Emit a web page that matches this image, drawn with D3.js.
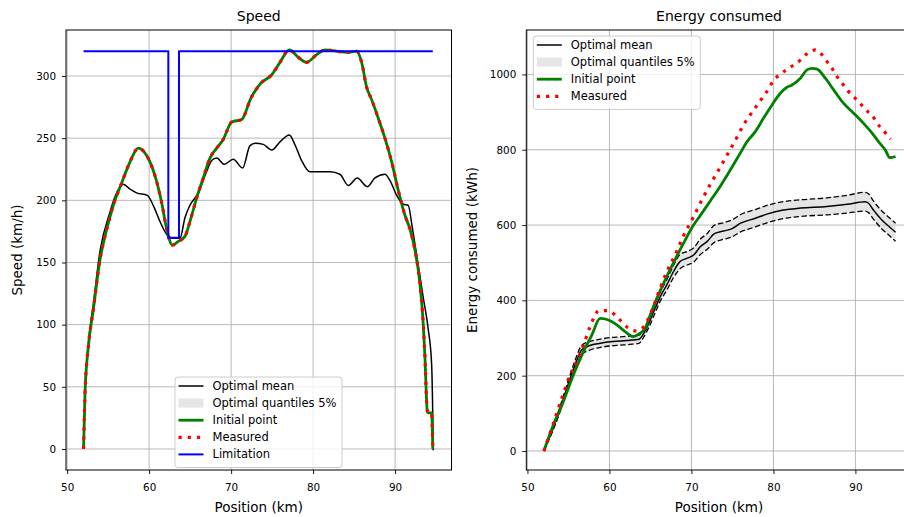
<!DOCTYPE html>
<html>
<head>
<meta charset="utf-8">
<script src="https://cdn.jsdelivr.net/npm/d3@7"></script>
<style>
  body { margin: 0; background: #fff; }
  svg { display: block; }
  text { font-family: "DejaVu Sans", sans-serif; fill: #000; }
</style>
</head>
<body>
<svg id="chart" width="904" height="517"></svg>
<script>
// ---- data ----
const posTicks = [50, 60, 70, 80, 90];
const speedTicks = [0, 50, 100, 150, 200, 250, 300];
const energyTicks = [0, 200, 400, 600, 800, 1000];

// Speed (km/h)
const speedMeanPos = [52.0, 52.18, 52.58, 53.19, 54.0, 55.2, 55.84, 56.85, 57.67, 58.48, 59.78, 60.5, 61.32, 62.34, 62.95, 63.76, 64.37, 64.98, 66.0, 67.0, 67.63, 68.24, 69.17, 70.26, 71.4, 72.3, 72.95, 73.92, 74.95, 75.96, 77.1, 77.8, 78.6, 79.6, 82.06, 83.27, 84.29, 85.39, 86.6, 87.54, 88.76, 89.37, 90.19, 91.0, 91.6, 92.1, 92.63, 93.43, 94.05, 94.45, 94.57, 94.65];
const speedMean = [0, 46, 84, 116, 159, 190, 203, 213, 209, 206, 204, 196, 183, 171, 169.5, 169.5, 186, 196, 206, 223, 232, 234, 229, 233, 226, 244, 246, 245, 240.5, 247, 252.5, 244.5, 232, 223, 223, 221, 212, 218, 211, 218, 221, 216, 204, 197, 196, 178, 156, 122, 96, 69, 37, -1];

const speedInitPos = [52.0, 52.18, 52.58, 53.19, 54.0, 54.8, 55.63, 56.65, 57.67, 58.68, 59.7, 60.7, 61.5, 62.14, 62.83, 63.56, 64.37, 64.98, 65.8, 66.6, 67.42, 68.24, 69.04, 70.07, 71.29, 72.4, 73.6, 74.95, 75.96, 77.1, 78.2, 79.2, 80.4, 81.45, 82.87, 84.1, 85.3, 85.92, 86.53, 87.14, 87.95, 88.76, 89.58, 90.39, 91.2, 91.81, 92.42, 93.03, 93.43, 93.64, 93.92, 94.05, 94.45, 94.6];
const speedInit = [0, 45, 82, 112, 152, 176, 196, 214, 231, 242, 236, 220, 199, 177, 164, 167, 171, 183, 202, 218, 234, 242, 249, 263, 265, 282, 294, 301, 311, 321, 315, 311, 317, 321, 320, 319, 320, 311, 291, 281, 266, 250, 231, 208, 188, 177, 160, 133, 101, 74, 31, 29, 29, 0];
const speedMeasured = speedInit; // identical to the initial point on the picture

const limitPos = [52.0, 62.34, 62.34, 63.64, 63.64, 94.6];
const limitSpeed = [320, 320, 170, 170, 320, 320];

// Energy consumed (kWh)
const energyPos = [52.0, 53.6, 54.8, 55.8, 56.6, 57.6, 58.9, 60.1, 61.3, 62.5, 63.6, 64.2, 64.8, 65.4, 66.2, 67.0, 67.8, 68.6, 69.5, 70.3, 71.1, 71.9, 72.8, 73.9, 74.9, 76.0, 77.8, 79.2, 81.2, 83.3, 86.5, 89.0, 91.2, 91.6, 92.2, 93.2, 94.1, 94.9];
const energyMean = [0, 87, 166, 228, 268, 280, 286, 290, 292, 294, 297, 313, 339, 370, 410, 441, 476, 503, 512, 521, 543, 556, 577, 584, 590, 605, 618, 629, 640, 645, 649, 655, 662, 658, 640, 614, 596, 581];
const energyHigh = [0, 93, 175, 240, 280, 291, 297, 301, 303, 305, 308, 322, 350, 382, 422, 455, 492, 522, 530, 540, 563, 577, 600, 606, 613, 628, 641, 652, 662, 667, 672, 679, 687, 683, 664, 638, 620, 605];
const energyLow = [0, 81, 157, 216, 256, 268, 275, 279, 281, 283, 286, 303, 328, 358, 398, 427, 460, 484, 494, 502, 522, 535, 554, 562, 568, 582, 595, 606, 617, 623, 627, 632, 637, 633, 616, 590, 573, 557];

const energyInitPos = [52.0, 53.16, 54.38, 55.6, 56.83, 57.85, 58.86, 59.88, 60.9, 61.92, 62.86, 63.75, 64.36, 64.97, 65.79, 66.6, 67.82, 69.04, 70.26, 71.07, 72.3, 73.52, 74.74, 75.96, 76.78, 77.79, 78.8, 79.83, 80.84, 81.66, 82.27, 83.29, 84.1, 84.71, 85.32, 86.33, 87.35, 88.57, 89.79, 91.0, 92.04, 92.84, 93.66, 94.19, 94.9];
const energyInit = [0, 69, 131, 202, 264, 308, 352, 348, 335, 317, 304, 313, 326, 361, 406, 445, 500, 552, 600, 625, 664, 703, 746, 791, 821, 848, 884, 919, 950, 966, 972, 990, 1012, 1016, 1014, 990, 959, 923, 897, 870, 844, 821, 799, 779, 782];

const energyMeasPos = [52.0, 53.16, 54.19, 55.2, 56.2, 56.83, 57.64, 58.74, 59.76, 60.7, 61.5, 62.2, 63.13, 64.07, 64.76, 65.37, 66.18, 67.0, 68.02, 69.04, 70.26, 71.28, 72.3, 73.31, 74.33, 75.35, 76.36, 77.4, 78.4, 79.42, 80.03, 80.84, 81.66, 82.47, 83.29, 84.1, 85.11, 85.93, 86.54, 87.15, 87.76, 88.37, 88.98, 89.79, 90.6, 91.22, 92.04, 92.65, 93.38, 94.0, 94.3];
const energyMeas = [0, 73, 140, 202, 246, 281, 330, 373, 373, 361, 343, 328, 319, 327, 352, 383, 432, 476, 521, 572, 622, 667, 708, 746, 785, 825, 866, 900, 930, 962, 985, 1000, 1014, 1025, 1038, 1055, 1065, 1052, 1034, 1016, 994, 977, 959, 941, 923, 906, 892, 870, 853, 835, 828];

// ---- layout ----
const TOP = 30, BOTTOM = 470, PANEL_W = 385.5;
const POS_DOMAIN = [49.86, 96.88];
const COLORS = { mean: "#000", band: "#d3d3d3", init: "#008000", meas: "#ff0000", limit: "#0000ff", grid: "#b0b0b0" };
const STYLE = {
    mean:  { stroke: COLORS.mean, width: 1.5 },
    quant: { stroke: COLORS.mean, width: 1.3, dash: "5.5,2.5" },
    init:  { stroke: COLORS.init, width: 2.8 },
    meas:  { stroke: COLORS.meas, width: 3.2, dash: "3.2,6" },
    limit: { stroke: COLORS.limit, width: 2 }
};

const svg = d3.select("#chart");
const defs = svg.append("defs");

function drawPanel(o) {
    const x = d3.scaleLinear().domain(POS_DOMAIN).range([o.left, o.left + PANEL_W]);
    const y = d3.scaleLinear().domain(o.yDomain).range([BOTTOM, TOP]);
    const g = svg.append("g");

    defs.append("clipPath").attr("id", o.id + "-clip").append("rect")
        .attr("x", o.left).attr("y", TOP).attr("width", PANEL_W).attr("height", BOTTOM - TOP);

    // grid
    const grid = g.append("g").attr("stroke", COLORS.grid).attr("stroke-width", 0.9);
    grid.selectAll(".gx").data(posTicks).join("line").attr("class", "gx")
        .attr("x1", d => x(d)).attr("x2", d => x(d)).attr("y1", TOP).attr("y2", BOTTOM);
    grid.selectAll(".gy").data(o.yTicks).join("line").attr("class", "gy")
        .attr("x1", o.left).attr("x2", o.left + PANEL_W).attr("y1", d => y(d)).attr("y2", d => y(d));

    const plot = g.append("g").attr("clip-path", `url(#${o.id}-clip)`);

    // axes
    const xAxis = g.append("g").attr("transform", `translate(0,${BOTTOM})`)
        .call(d3.axisBottom(x).tickValues(posTicks).tickFormat(d3.format("d")).tickSize(4).tickPadding(10));
    const yAxis = g.append("g").attr("transform", `translate(${o.left},0)`)
        .call(d3.axisLeft(y).tickValues(o.yTicks).tickFormat(d3.format("d")).tickSize(4).tickPadding(6));
    [xAxis, yAxis].forEach(a => {
        a.select(".domain").remove();
        a.attr("font-family", null).attr("font-size", null);
        a.selectAll("text").attr("font-size", "10.4px");
        a.selectAll("line").attr("stroke", "#000").attr("stroke-width", 0.9);
    });

    // frame
    g.append("rect").attr("x", o.left).attr("y", TOP).attr("width", PANEL_W).attr("height", BOTTOM - TOP)
        .attr("fill", "none").attr("stroke", "#000").attr("stroke-width", 1);

    // labels
    g.append("text").attr("x", o.left + PANEL_W / 2).attr("y", 21).attr("text-anchor", "middle")
        .attr("font-size", "14px").text(o.title);
    g.append("text").attr("x", o.left + PANEL_W / 2).attr("y", 512).attr("text-anchor", "middle")
        .attr("font-size", "13.5px").text("Position (km)");
    g.append("text").attr("transform", `translate(${o.ylabelX},${(TOP + BOTTOM) / 2}) rotate(-90)`)
        .attr("text-anchor", "middle").attr("font-size", "13.5px").text(o.ylabel);

    return { x, y, plot, g };
}

function drawLine(p, xs, ys, st, curve) {
    const line = d3.line().x(d => p.x(d[0])).y(d => p.y(d[1])).curve(curve || d3.curveMonotoneX);
    p.plot.append("path").datum(d3.zip(xs, ys)).attr("d", line)
        .attr("fill", "none").attr("stroke", st.stroke).attr("stroke-width", st.width)
        .attr("stroke-dasharray", st.dash || null).attr("stroke-linejoin", "round");
}

function drawLegend(p, left, top, width, items) {
    const rowH = 17.1;
    const lg = p.g.append("g");
    lg.append("rect").attr("x", left).attr("y", top).attr("width", width).attr("height", items.length * rowH + 5)
        .attr("rx", 3).attr("fill", "#fff").attr("fill-opacity", 0.8).attr("stroke", "#ccc").attr("stroke-width", 1);
    items.forEach((it, i) => {
        const cy = top + 9 + i * rowH;
        if (it.patch) {
            lg.append("rect").attr("x", left + 3.5).attr("y", cy - 4.5).attr("width", 25).attr("height", 9)
                .attr("fill", COLORS.band).attr("fill-opacity", 0.6);
        } else {
            lg.append("line").attr("x1", left + 3.5).attr("x2", left + 28.5).attr("y1", cy).attr("y2", cy)
                .attr("stroke", it.st.stroke).attr("stroke-width", it.st.width).attr("stroke-dasharray", it.st.dash || null);
        }
        lg.append("text").attr("x", left + 37.5).attr("y", cy + 4).attr("font-size", "11.5px").text(it.label);
    });
}

// ---- Speed panel ----
const speed = drawPanel({ id: "speed", left: 66, yDomain: [-16.9, 337], yTicks: speedTicks,
    title: "Speed", ylabel: "Speed (km/h)", ylabelX: 22 });
drawLine(speed, speedMeanPos, speedMean, STYLE.mean);
drawLine(speed, speedInitPos, speedInit, STYLE.init);
drawLine(speed, speedInitPos, speedMeasured, STYLE.meas);
drawLine(speed, limitPos, limitSpeed, STYLE.limit, d3.curveLinear);
drawLegend(speed, 175, 377, 167, [
    { label: "Optimal mean", st: STYLE.mean },
    { label: "Optimal quantiles 5%", patch: true },
    { label: "Initial point", st: STYLE.init },
    { label: "Measured", st: STYLE.meas },
    { label: "Limitation", st: STYLE.limit }
]);

// ---- Energy panel ----
const energy = drawPanel({ id: "energy", left: 526.3, yDomain: [-50.5, 1118], yTicks: energyTicks,
    title: "Energy consumed", ylabel: "Energy consumed (kWh)", ylabelX: 476.5 });
const band = d3.area().x(d => energy.x(d[0])).y0(d => energy.y(d[1])).y1(d => energy.y(d[2])).curve(d3.curveMonotoneX);
energy.plot.append("path").datum(d3.zip(energyPos, energyLow, energyHigh)).attr("d", band)
    .attr("fill", COLORS.band).attr("fill-opacity", 0.6);
drawLine(energy, energyPos, energyHigh, STYLE.quant);
drawLine(energy, energyPos, energyLow, STYLE.quant);
drawLine(energy, energyPos, energyMean, STYLE.mean);
drawLine(energy, energyInitPos, energyInit, STYLE.init);
drawLine(energy, energyMeasPos, energyMeas, STYLE.meas);
drawLegend(energy, 533.3, 36, 167, [
    { label: "Optimal mean", st: STYLE.mean },
    { label: "Optimal quantiles 5%", patch: true },
    { label: "Initial point", st: STYLE.init },
    { label: "Measured", st: STYLE.meas }
]);
</script>
</body>
</html>
